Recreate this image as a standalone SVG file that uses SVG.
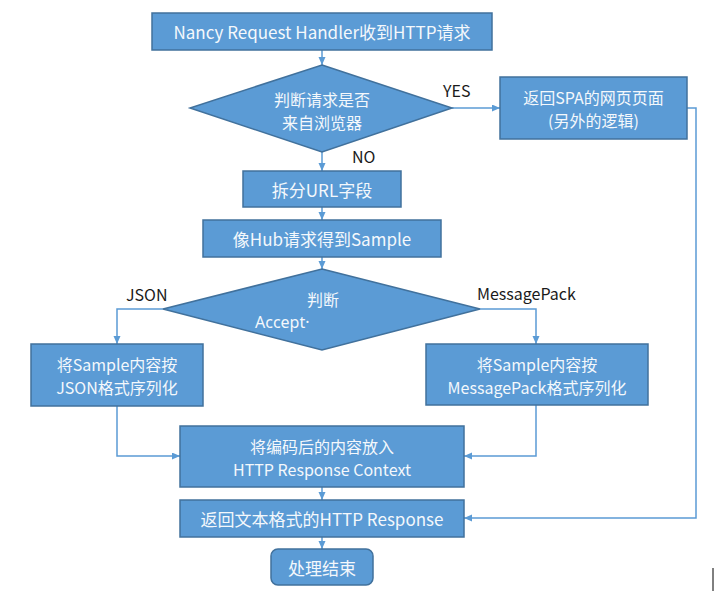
<svg xmlns="http://www.w3.org/2000/svg" width="723" height="593" viewBox="0 0 723 593">
<defs>
<marker id="arr" markerWidth="8" markerHeight="8" refX="8" refY="3.5" orient="auto" markerUnits="userSpaceOnUse">
<path d="M0,0 L8,3.5 L0,7 z" fill="#5b9bd5"/>
</marker>
<style>
.box{fill:#5b9bd5;stroke:#41719c;stroke-width:1.5}
.t{font-family:"Noto Sans CJK SC","Noto Sans",sans-serif;font-size:17px;fill:#f4f8fc;text-anchor:middle;dominant-baseline:central}
.t2{font-size:16px}
.lbl{font-family:"Noto Sans CJK SC","Noto Sans",sans-serif;font-size:16px;fill:#1a1a1a}
.c{fill:none;stroke:#5b9bd5;stroke-width:1.5;marker-end:url(#arr)}
</style>
</defs>
<rect width="723" height="593" fill="#ffffff"/>
<g id="connectors">
<path class="c" d="M322,50 V65"/>
<path class="c" d="M452,108 H500"/>
<path class="c" d="M687,108 H696 V518 H464"/>
<path class="c" d="M322,152 V171"/>
<path class="c" d="M322,207 V220"/>
<path class="c" d="M322,257 V269"/>
<path class="c" d="M163,309 H117 V344"/>
<path class="c" d="M480,309 H536 V344"/>
<path class="c" d="M117,406 V456 H180"/>
<path class="c" d="M536,405 V456 H464"/>
<path class="c" d="M322,487 V500"/>
<path class="c" d="M322,537 V549"/>
<text class="lbl" x="443" y="97">YES</text>
<text class="lbl" x="352" y="163">NO</text>
<text class="lbl" x="126" y="301">JSON</text>
<text class="lbl" x="477" y="300">MessagePack</text>
</g>
<g id="n1">
<rect class="box" x="152" y="13" width="340" height="37"/>
<text class="t" x="322" y="31.5">Nancy Request Handler收到HTTP请求</text>
</g>
<g id="d1">
<polygon class="box" points="322,65 452,108 322,152 190,108"/>
<text class="t t2" x="322" y="98.5">判断请求是否</text>
<text class="t t2" x="322" y="121.5">来自浏览器</text>
</g>
<g id="n2">
<rect class="box" x="500" y="77" width="187" height="62"/>
<text class="t t2" x="593.5" y="97">返回SPA的网页页面</text>
<text class="t t2" x="593.5" y="120">(另外的逻辑)</text>
</g>
<g id="n3">
<rect class="box" x="243" y="171" width="158" height="36"/>
<text class="t" x="322" y="189">拆分URL字段</text>
</g>
<g id="n4">
<rect class="box" x="203" y="220" width="238" height="37"/>
<text class="t" x="322" y="238.5">像Hub请求得到Sample</text>
</g>
<g id="d2">
<polygon class="box" points="322,269 480,309 322,350 163,309"/>
<text class="t t2" x="323" y="299">判断</text>
<text class="t t2" x="255" y="322" style="text-anchor:start;font-family:'Noto Sans',sans-serif">Accept·</text>
</g>
<g id="n5">
<rect class="box" x="31" y="344" width="172" height="62"/>
<text class="t t2" x="117" y="364">将Sample内容按</text>
<text class="t t2" x="117" y="387">JSON格式序列化</text>
</g>
<g id="n6">
<rect class="box" x="426" y="344" width="222" height="61"/>
<text class="t t2" x="537" y="364">将Sample内容按</text>
<text class="t t2" x="537" y="387">MessagePack格式序列化</text>
</g>
<g id="n7">
<rect class="box" x="180" y="426" width="284" height="61"/>
<text class="t t2" x="322" y="446">将编码后的内容放入</text>
<text class="t t2" x="322" y="469">HTTP Response Context</text>
</g>
<g id="n8">
<rect class="box" x="180" y="500" width="284" height="37"/>
<text class="t" x="322" y="518.5">返回文本格式的HTTP Response</text>
</g>
<g id="n9">
<rect class="box" x="271" y="549" width="102" height="36" rx="7" ry="7"/>
<text class="t" x="322" y="567">处理结束</text>
</g>
<line x1="713" y1="568" x2="713" y2="591" stroke="#000000" stroke-width="1"/>
</svg>
